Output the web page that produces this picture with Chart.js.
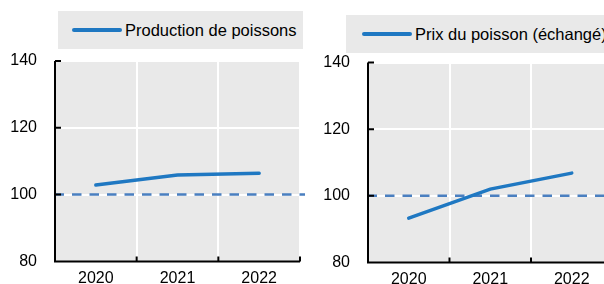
<!DOCTYPE html>
<html>
<head>
<meta charset="utf-8">
<script src="https://cdn.jsdelivr.net/npm/chart.js@4"></script>
<style>
  body{margin:0;width:604px;height:284px;overflow:hidden;position:relative;background:#fff;font-family:"Liberation Sans",Arial,sans-serif;}
  canvas{position:absolute;top:0;}
  .legend{position:absolute;background:#e9e9e9;height:38px;font-size:16.5px;color:#000;}
  .legend .swatch{position:absolute;top:17px;height:4px;width:50px;background:#1f78c2;border-radius:2px;}
  .legend .txt{position:absolute;top:0;line-height:38px;white-space:nowrap;}
</style>
</head>
<body>
<div class="legend" style="left:58px;top:11px;width:245px;">
  <span class="swatch" style="left:14px;"></span><span class="txt" id="name1" style="left:67px;"></span>
</div>
<div class="legend" style="left:346px;top:15px;width:300px;">
  <span class="swatch" style="left:16px;"></span><span class="txt" id="name2" style="left:69px;"></span>
</div>
<canvas id="left" width="310" height="289" style="left:0;"></canvas>
<canvas id="right" width="330" height="290" style="left:300px;"></canvas>
<script>
const years = ["2020", "2021", "2022"];
const production = [102.9, 105.9, 106.4];
const fishPrice = [93.3, 102.0, 106.8];
const yTicks = [80, 100, 120, 140];
const baseline = 100;
const seriesNames = ["Production de poissons", "Prix du poisson (échangé)"];

const FONT = "'Liberation Sans', Arial, sans-serif";
const NONE = "rgba(0,0,0,0)";

document.getElementById("name1").textContent = seriesNames[0];
document.getElementById("name2").textContent = seriesNames[1];

// grey plot area, dashed 100 line, black axes with inward ticks
const frame = {
  id: "frame",
  beforeDraw(chart){
    const {ctx, chartArea: a} = chart;
    ctx.save();
    ctx.fillStyle = "#e9e9e9";
    ctx.fillRect(a.left, a.top, a.right - a.left, a.bottom - a.top);
    ctx.restore();
  },
  beforeDatasetsDraw(chart, args, opts){
    const {ctx, chartArea: a} = chart;
    const y = chart.scales.y.getPixelForValue(baseline);
    ctx.save();
    ctx.strokeStyle = "#4a7fc0";
    ctx.lineWidth = 2.5;
    ctx.setLineDash([9.5, 8]);
    ctx.beginPath();
    ctx.moveTo(a.left - 0.5, y);
    ctx.lineTo(opts.dashTo, y);
    ctx.stroke();
    ctx.restore();
  },
  afterDraw(chart){
    const {ctx, chartArea: a} = chart;
    const xs = chart.scales.x, ys = chart.scales.y;
    ctx.save();
    ctx.strokeStyle = "#000";
    ctx.lineWidth = 2;
    ctx.beginPath();
    ctx.moveTo(a.left, a.top);
    ctx.lineTo(a.left, a.bottom);
    ctx.lineTo(a.right, a.bottom);
    yTicks.forEach(v => {
      const y = ys.getPixelForValue(v);
      ctx.moveTo(a.left, y);
      ctx.lineTo(a.left + 6, y);
    });
    for(let i = 1; i <= years.length; i++){
      const x = xs.getPixelForValue(i - 0.5);
      ctx.moveTo(x, a.bottom);
      ctx.lineTo(x, a.bottom - 5);
    }
    ctx.stroke();
    ctx.restore();
  }
};

function makeChart(id, label, values, o){
  return new Chart(document.getElementById(id), {
    type: "line",
    data: {
      labels: years,
      datasets: [{
        label,
        data: values,
        borderColor: "#1f78c2",
        borderWidth: 3.5,
        borderCapStyle: "round",
        pointRadius: 0,
        tension: 0
      }]
    },
    options: {
      responsive: false,
      animation: false,
      layout: { padding: { top: o.top, right: o.right, left: 0, bottom: 0 } },
      plugins: {
        legend: { display: false },
        tooltip: { enabled: false },
        frame: { dashTo: o.dashTo }
      },
      scales: {
        x: {
          offset: true,
          grid: { offset: true, lineWidth: 2, drawTicks: false,
            color: c => c.index === 0 ? NONE : "#fff" },
          border: { display: false },
          ticks: { color: "#000", padding: 8, font: { size: 16, family: FONT } },
          afterFit: s => { s.height = 23; }
        },
        y: {
          min: 80, max: 140,
          afterBuildTicks: s => { s.ticks = yTicks.map(v => ({ value: v })); },
          grid: { lineWidth: 2, drawTicks: false,
            color: c => c.tick && c.tick.value === 80 ? NONE : "#fff" },
          border: { display: false },
          ticks: { color: "#000", padding: 18, font: { size: 16, family: FONT } },
          afterFit: s => { s.width = o.yw; }
        }
      }
    },
    plugins: [frame]
  });
}

makeChart("left", seriesNames[0], production, { top: 61, right: 10, yw: 55, dashTo: 305 });
makeChart("right", seriesNames[1], fishPrice, { top: 62.5, right: 17.5, yw: 68, dashTo: 330 });
</script>
</body>
</html>
